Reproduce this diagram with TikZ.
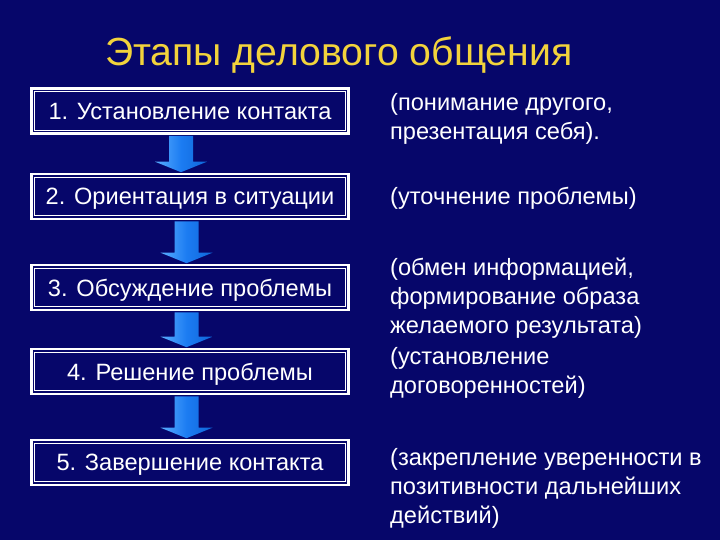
\documentclass[tikz,border=0pt]{standalone}
\usepackage{fontspec}
\setmainfont{Liberation Sans}
\usetikzlibrary{calc}
\definecolor{bgnavy}{HTML}{06066A}
\definecolor{titleyellow}{HTML}{F2D33C}
\definecolor{arrowlight}{HTML}{5AAEFF}
\definecolor{arrowmid}{HTML}{1C7CF2}
\definecolor{arrowdark}{HTML}{0F66D8}
\tikzset{
  stagebox/.style={draw=white, line width=2.6pt, fill=bgnavy, minimum width=317pt,
    minimum height=45pt, inner sep=0pt, text=white, text depth=0pt,
    font=\fontsize{23.6}{28}\selectfont},
  innerline/.style={draw=white, line width=0.9pt},
  notetext/.style={anchor=base west, align=left, inner sep=0pt, text=white,
    font=\fontsize{23.6}{29}\selectfont},
  arrowstyle/.style={left color=arrowlight, right color=arrowdark, middle color=arrowmid},
}
\newcommand\blkarrow[3]{%
  \path let \p1=(#1.south), \p2=(#2.north) in
    [arrowstyle] (\x1+#3-12pt,\y1-1pt) -- (\x1+#3+12pt,\y1-1pt) -- (\x1+#3+12pt,\y2+11pt)
    -- (\x1+#3+26pt,\y2+11pt) -- (\x1+#3,\y2+0.5pt) -- (\x1+#3-26pt,\y2+11pt)
    -- (\x1+#3-12pt,\y2+11pt) -- cycle;}
\newcommand\innerframe[1]{%
  \draw[innerline] ([shift={(4.5pt,-4.5pt)}]#1.north west) rectangle ([shift={(-4.5pt,4.5pt)}]#1.south east);}
\begin{document}
\begin{tikzpicture}[x=1pt,y=1pt]
\fill[bgnavy] (0,0) rectangle (720,-540);
\useasboundingbox (0,0) rectangle (720,-540);

\node[anchor=base west, inner sep=0pt, text=titleyellow, font=\fontsize{39.2}{48}\selectfont]
  (title) at (105,-66) {Этапы делового общения};

\node[stagebox] (b1) at (190,-111) {1. Установление контакта};
\node[stagebox] (b2) at (190,-196.5) {2. Ориентация в ситуации};
\node[stagebox] (b3) at (190,-287.5) {3. Обсуждение проблемы};
\node[stagebox] (b4) at (190,-371.5) {4. Решение проблемы};
\node[stagebox] (b5) at (190,-462.5) {5. Завершение контакта};
\innerframe{b1}\innerframe{b2}\innerframe{b3}\innerframe{b4}\innerframe{b5}

\blkarrow{b1}{b2}{-9pt}
\blkarrow{b2}{b3}{-3.5pt}
\blkarrow{b3}{b4}{-3.5pt}
\blkarrow{b4}{b5}{-3.5pt}

\node[notetext] (n1) at (390,-140) {(понимание другого,\\презентация себя).};
\node[notetext] (n2) at (390,-205) {(уточнение проблемы)};
\node[notetext] (n3) at (390,-333) {(обмен информацией,\\формирование образа\\желаемого результата)};
\node[notetext] (n4) at (390,-393) {(установление\\договоренностей)};
\node[notetext] (n5) at (390,-523) {(закрепление уверенности в\\позитивности дальнейших\\действий)};
\end{tikzpicture}
\end{document}
